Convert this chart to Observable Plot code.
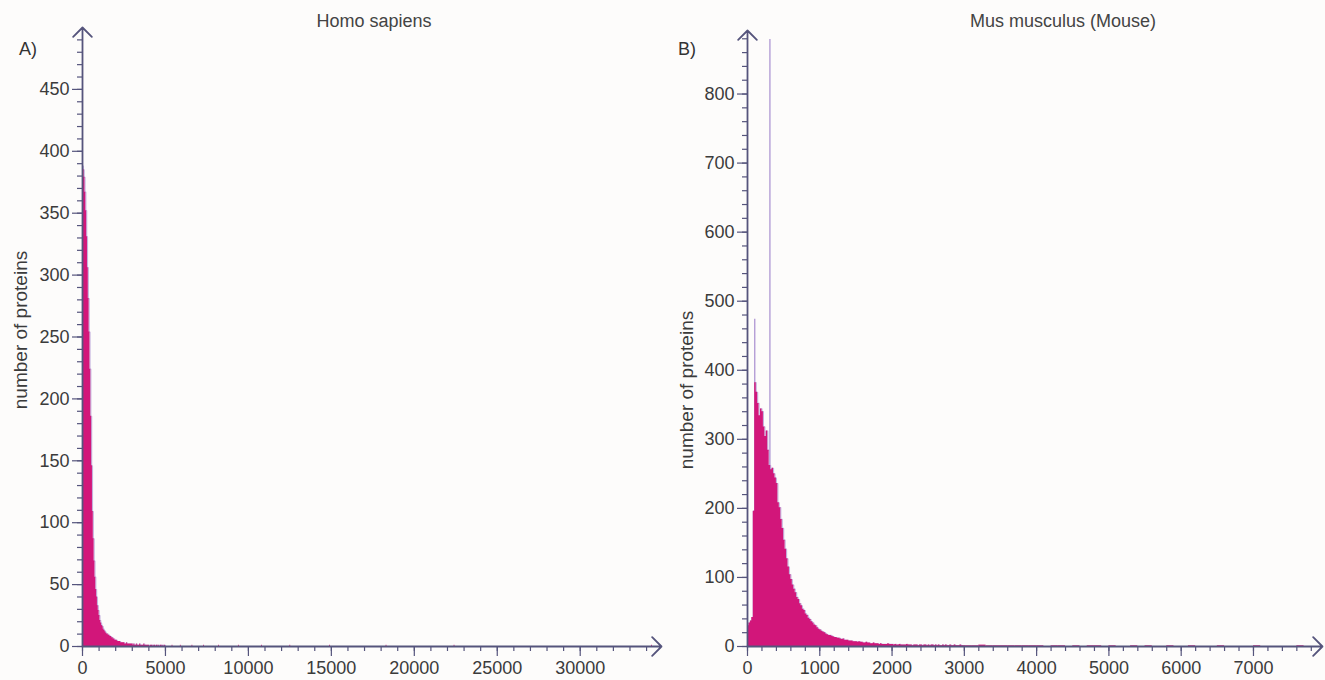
<!DOCTYPE html>
<html><head><meta charset="utf-8">
<script src="https://cdn.jsdelivr.net/npm/d3@7"></script>
<script src="https://cdn.jsdelivr.net/npm/@observablehq/plot@0.6"></script>
<style>
html,body{margin:0;padding:0;background:#fdfcfb;}
#wrap{display:flex;width:1325px;height:680px;}
svg{display:block;overflow:visible}
</style></head><body><div id="wrap"></div>
<script>
// ---------- data ----------
const humanTitle = "Homo sapiens";
const mouseTitle = "Mus musculus (Mouse)";
const yAxisLabel = "number of proteins";

// Homo sapiens: counts per 50-residue bin, starting at 0
const humanBinWidth = 50;
const humanCounts = [
  388,385,379,367,352,331,306,281,254,224,
  186,146,109,87,69,56,46,40,33,29,
  25,21,19,17,16,14,13,12,11,10,
  10,9,9,8,8,7,7,6,6,5,
  5,5,4,4,4,4,3,3,3,3,
  3,2,2,3,2,2,2,2,2,2,
  2,1,2,1,1,2,1,1,1,2,
  1,1,1,1,2,1,1,1,1,1,
  1,0,1,1,1,0,1,1,0,1,
  1,0,1,0,1,1,0,1,0,1
];
// sparse long proteins (bin start, count)
const humanSparseX = [5400,5900,6600,7300,8200,9400,10800,12500,14900,18300,22400,34300];
const humanSparseY = [1,1,1,1,1,1,1,1,1,1,1,1];

const humanXTicks = [0,5000,10000,15000,20000,25000,30000];
const humanYTicks = [0,50,100,150,200,250,300,350,400,450];

// Mus musculus: counts per 20-residue bin, starting at 0
const mouseBinWidth = 20;
const mouseCounts = [
  30,34,37,42,196,382,368,352,334,344,
  340,318,304,312,284,262,256,258,250,244,
  236,208,201,184,171,154,141,127,115,104,
  97,89,83,78,71,68,62,59,54,52,
  47,45,41,39,36,34,31,30,27,25,
  24,22,21,20,18,17,16,16,15,14,
  13,13,12,12,11,10,11,9,9,9,
  8,8,8,7,7,7,6,7,6,6,
  5,5,6,5,5,4,4,5,4,4,
  4,3,4,3,3,3,3,4,3,3,
  3,2,3,2,2,3,2,2,2,2,
  3,2,2,2,1,2,2,2,1,2,
  2,1,2,2,1,2,1,2,2,1,
  2,1,2,1,1,2,1,2,1,1,
  2,1,1,2,1,1,1,2,1,1
];
// tail: counts per 100-residue bin from 3000
const mouseTailStart = 3000;
const mouseTailWidth = 100;
const mouseTailCounts = [
  1,1,2,1,1,1,1,1,1,1,
  1,0,1,1,0,1,0,1,1,0,
  1,0,0,1,0,1,0,0,1,0,
  0,1,0,0,0,1,0,0,0,0,
  1,0,0,0,0,0,1,0,0,0
];
// thin isolated spikes (residue length, count)
const mouseSpikeX = [100, 310];
const mouseSpikeY = [474, 879];

const mouseXTicks = [0,1000,2000,3000,4000,5000,6000,7000];
const mouseYTicks = [0,100,200,300,400,500,600,700,800];

// ---------- styles ----------
const FILL = "#d2167a";
const EDGE = "#b49ed6";
const AXIS = "#55547c";
const TEXT = "#3b3b3b";
const FONT = "Liberation Sans, Arial, Helvetica, sans-serif";

function panel(cfg) {
  const area = cfg.counts.map((c, i) => ({x: i * cfg.binW, y: c}));
  area.push({x: cfg.counts.length * cfg.binW, y: 0});
  const svg = Plot.plot({
    width: cfg.width, height: 680,
    marginLeft: cfg.marginLeft, marginRight: cfg.marginRight,
    marginTop: cfg.marginTop, marginBottom: 34,
    style: {fontFamily: FONT, fontSize: "18px", color: TEXT, background: "transparent", overflow: "visible"},
    x: {domain: [0, cfg.xMax], axis: null},
    y: {domain: [0, cfg.yMax], axis: null},
    marks: [
      Plot.ruleX(cfg.spikes, {x: "x", y1: 0, y2: "y", stroke: EDGE, strokeWidth: 1.4}),
      Plot.lineY(area, {x: "x", y: "y", curve: "step-after", stroke: EDGE, strokeWidth: 1.2, strokeOpacity: 0.8}),
      Plot.areaY(area, {x: "x", y: "y", curve: "step-after", fill: FILL}),
      Plot.rectY(cfg.tail, {x1: "x1", x2: "x2", y: "y", fill: FILL}),
      Plot.axisY({ticks: cfg.yMinor, tickSize: 5, tickFormat: () => "", stroke: AXIS, strokeWidth: 1.2, label: null}),
      Plot.axisY({ticks: cfg.yTicks, tickSize: 10, tickPadding: 3, tickFormat: d => String(d), stroke: AXIS, strokeWidth: 1.2, fill: TEXT, fontSize: 18, label: null}),
      Plot.axisX({ticks: cfg.xMinor, tickSize: 5, tickFormat: () => "", stroke: AXIS, strokeWidth: 1.2, label: null}),
      Plot.axisX({ticks: cfg.xTicks, tickSize: 10, tickPadding: 5, tickFormat: d => String(d), stroke: AXIS, strokeWidth: 1.2, fill: TEXT, fontSize: 18, label: null}),
      Plot.arrow([{x1: 0, y1: 0, x2: 0, y2: cfg.yMax}], {x1: "x1", y1: "y1", x2: "x2", y2: "y2", stroke: AXIS, strokeWidth: 1.8, headLength: 11, headAngle: 90}),
      Plot.arrow([{x1: 0, y1: 0, x2: cfg.xMax, y2: 0}], {x1: "x1", y1: "y1", x2: "x2", y2: "y2", stroke: AXIS, strokeWidth: 1.8, headLength: 11, headAngle: 90})
    ]
  });
  const s = d3.select(svg);
  s.append("text").attr("x", cfg.titleX).attr("y", 27).attr("text-anchor", "middle")
    .attr("fill", "#444").style("font-size", "18px").text(cfg.title);
  s.append("text").attr("x", cfg.letterX).attr("y", 55).attr("text-anchor", "start")
    .attr("fill", "#333").style("font-size", "18px").text(cfg.letter);
  s.append("text").attr("transform", `translate(${cfg.ylabX},${cfg.ylabY}) rotate(-90)`)
    .attr("text-anchor", "middle").attr("dominant-baseline", "central")
    .attr("fill", "#3b3b3b").style("font-size", "19px").text(yAxisLabel);
  return svg;
}

const wrap = document.getElementById("wrap");

wrap.appendChild(panel({
  width: 662, marginLeft: 82, marginRight: 1, marginTop: 27,
  xMax: 34900, yMax: 500,
  binW: humanBinWidth, counts: humanCounts,
  tail: humanSparseX.map((x, i) => ({x1: x, x2: x + humanBinWidth, y: humanSparseY[i]})),
  spikes: [],
  xTicks: humanXTicks, xMinor: d3.range(0, 34001, 1000),
  yTicks: humanYTicks, yMinor: d3.range(0, 491, 10),
  title: humanTitle, titleX: 374, letter: "A)", letterX: 19, ylabX: 20, ylabY: 330
}));

wrap.appendChild(panel({
  width: 663, marginLeft: 85, marginRight: 3, marginTop: 30,
  xMax: 7955, yMax: 892,
  binW: mouseBinWidth, counts: mouseCounts,
  tail: mouseTailCounts.map((c, i) => ({x1: mouseTailStart + i * mouseTailWidth, x2: mouseTailStart + (i + 1) * mouseTailWidth, y: c})).filter(d => d.y > 0),
  spikes: mouseSpikeX.map((x, i) => ({x, y: mouseSpikeY[i]})),
  xTicks: mouseXTicks, xMinor: d3.range(0, 7801, 200),
  yTicks: mouseYTicks, yMinor: d3.range(0, 881, 20),
  title: mouseTitle, titleX: 401, letter: "B)", letterX: 16, ylabX: 24, ylabY: 390
}));
</script>
</body></html>
